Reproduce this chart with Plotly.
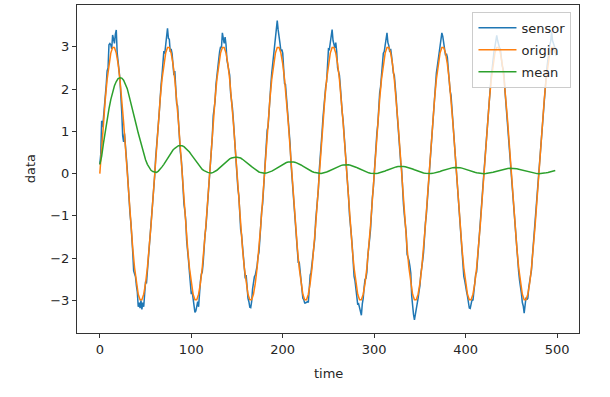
import plotly.graph_objects as go

# sensor sampled every time step, origin / mean every 2nd step
sensor_time = list(range(0, 500))
time = list(range(0, 500, 2))

sensor = [
    # t 0-59
    0.22, 0.45, 1.25, 1.10, 1.32, 1.55, 1.76, 2.10, 2.43, 2.50,
    3.05, 3.08, 3.05, 2.95, 3.28, 3.15, 3.08, 3.30, 3.40, 2.85,
    2.70, 2.45, 2.23, 1.95, 1.45, 0.90, 0.75, 0.95, 0.57, 0.35,
    0.10, -0.25, -0.72, -0.95, -1.17, -1.45, -1.86, -2.30, -2.38, -2.44,
    -2.65, -2.80, -3.15, -3.05, -3.18, -3.00, -3.21, -3.05, -3.15, -2.70,
    -2.55, -2.60, -2.33, -1.95, -1.71, -1.50, -1.32, -0.95, -0.57, -0.30,
    # t 60-119
    -0.05, 0.36, 0.72, 1.03, 1.17, 1.45, 1.88, 2.11, 2.33, 2.63,
    2.90, 2.84, 3.10, 3.23, 3.44, 3.20, 3.18, 2.88, 2.95, 2.84,
    2.50, 2.33, 2.43, 2.06, 1.66, 1.60, 1.32, 0.88, 0.52, 0.36,
    0.05, -0.41, -0.72, -0.88, -1.12, -1.60, -1.96, -2.06, -2.33, -2.58,
    -2.85, -2.79, -2.95, -3.08, -3.28, -3.25, -3.08, -3.03, -3.15, -2.79,
    -2.55, -2.38, -2.33, -2.11, -1.66, -1.45, -1.27, -0.98, -0.52, -0.26,
    # t 120-179
    0.05, 0.41, 0.52, 0.88, 1.37, 1.55, 1.71, 2.11, 2.38, 2.48,
    2.70, 2.89, 3.00, 2.98, 3.33, 3.20, 3.08, 3.23, 3.05, 2.69,
    2.55, 2.48, 2.33, 1.91, 1.61, 1.55, 1.27, 0.88, 0.57, 0.36,
    -0.10, -0.36, -0.52, -0.98, -1.32, -1.45, -1.71, -2.11, -2.38, -2.48,
    -2.40, -2.84, -2.95, -3.03, -3.16, -3.17, -3.03, -2.73, -2.50, -2.44,
    -2.40, -2.28, -2.18, -1.96, -1.86, -1.55, -1.17, -0.88, -0.72, -0.36,
    # t 180-239
    0.08, 0.36, 0.67, 1.03, 1.12, 1.55, 1.96, 2.11, 2.38, 2.58,
    2.70, 3.04, 3.20, 3.38, 3.62, 3.40, 3.28, 3.08, 2.90, 2.94,
    2.85, 2.48, 2.13, 2.11, 1.86, 1.45, 1.17, 1.03, 0.72, 0.26,
    -0.05, -0.36, -0.67, -0.88, -1.12, -1.55, -1.86, -2.11, -2.08, -2.33,
    -2.65, -2.79, -2.95, -2.98, -3.06, -3.06, -3.03, -3.03, -3.05, -2.69,
    -2.40, -2.33, -2.13, -1.96, -1.81, -1.55, -1.12, -0.88, -0.67, -0.36,
    # t 240-299
    0.10, 0.36, 0.57, 0.98, 1.32, 1.60, 1.86, 2.06, 2.18, 2.63,
    2.95, 2.94, 3.15, 3.28, 3.41, 3.15, 3.08, 2.98, 3.10, 2.89,
    2.50, 2.38, 2.33, 2.06, 1.66, 1.45, 1.27, 0.98, 0.72, 0.36,
    -0.05, -0.36, -0.57, -0.98, -1.32, -1.45, -1.71, -2.16, -2.43, -2.53,
    -2.70, -2.94, -3.10, -3.08, -3.18, -3.30, -3.35, -3.08, -2.95, -2.69,
    -2.50, -2.48, -2.33, -1.96, -1.66, -1.55, -1.32, -0.88, -0.57, -0.36,
    # t 300-359
    0.05, 0.36, 0.72, 0.98, 1.17, 1.60, 1.91, 2.06, 2.33, 2.58,
    2.85, 2.89, 3.05, 3.23, 3.33, 3.10, 3.03, 2.88, 2.95, 2.79,
    2.50, 2.38, 2.33, 2.11, 1.81, 1.45, 1.12, 0.98, 0.67, 0.26,
    0.10, -0.41, -0.72, -0.98, -1.17, -1.40, -1.91, -1.96, -2.05, -2.18,
    -2.35, -2.89, -3.20, -3.33, -3.46, -3.35, -3.23, -3.08, -2.95, -2.79,
    -2.65, -2.38, -2.13, -2.06, -1.86, -1.45, -1.17, -0.98, -0.67, -0.26,
    # t 360-419
    -0.05, 0.36, 0.72, 0.98, 1.27, 1.45, 1.71, 2.11, 2.38, 2.53,
    2.70, 2.84, 3.00, 3.13, 3.33, 3.25, 3.08, 2.88, 2.80, 2.84,
    2.75, 2.48, 2.13, 1.96, 1.86, 1.55, 1.17, 0.88, 0.67, 0.36,
    -0.05, -0.36, -0.57, -0.98, -1.32, -1.45, -1.71, -2.11, -2.43, -2.53,
    -2.70, -2.79, -2.90, -3.03, -3.18, -3.19, -3.08, -2.98, -3.00, -2.79,
    -2.55, -2.38, -2.33, -2.06, -1.71, -1.45, -1.32, -0.98, -0.57, -0.26,
    # t 420-479
    0.05, 0.36, 0.57, 0.98, 1.32, 1.55, 1.81, 2.11, 2.33, 2.48,
    2.80, 2.89, 3.00, 3.13, 3.27, 3.15, 3.03, 2.98, 2.95, 2.69,
    2.55, 2.48, 2.33, 1.96, 1.66, 1.55, 1.27, 0.88, 0.57, 0.36,
    0.05, -0.36, -0.67, -0.88, -1.12, -1.55, -1.81, -2.06, -2.33, -2.53,
    -2.65, -2.84, -3.05, -3.13, -3.30, -3.10, -2.93, -2.98, -2.95, -2.69,
    -2.55, -2.48, -2.28, -1.96, -1.66, -1.55, -1.27, -0.88, -0.52, -0.36,
    # t 480-499
    0.05, 0.36, 0.67, 0.88, 1.12, 1.55, 1.86, 2.11, 2.28, 2.53,
    2.75, 2.89, 3.05, 3.13, 3.36, 3.15, 3.08, 2.98, 2.95, 2.79,
]

origin = [
    0, 0.624, 1.22, 1.763, 2.229, 2.598, 2.853, 2.984, 2.984, 2.853, 2.598, 2.229, 1.763, 1.22, 0.624,
    0, -0.624, -1.22, -1.763, -2.229, -2.598, -2.853, -2.984, -2.984, -2.853, -2.598, -2.229, -1.763, -1.22, -0.624,
    0, 0.624, 1.22, 1.763, 2.229, 2.598, 2.853, 2.984, 2.984, 2.853, 2.598, 2.229, 1.763, 1.22, 0.624,
    0, -0.624, -1.22, -1.763, -2.229, -2.598, -2.853, -2.984, -2.984, -2.853, -2.598, -2.229, -1.763, -1.22, -0.624,
    0, 0.624, 1.22, 1.763, 2.229, 2.598, 2.853, 2.984, 2.984, 2.853, 2.598, 2.229, 1.763, 1.22, 0.624,
    0, -0.624, -1.22, -1.763, -2.229, -2.598, -2.853, -2.984, -2.984, -2.853, -2.598, -2.229, -1.763, -1.22, -0.624,
    0, 0.624, 1.22, 1.763, 2.229, 2.598, 2.853, 2.984, 2.984, 2.853, 2.598, 2.229, 1.763, 1.22, 0.624,
    0, -0.624, -1.22, -1.763, -2.229, -2.598, -2.853, -2.984, -2.984, -2.853, -2.598, -2.229, -1.763, -1.22, -0.624,
    0, 0.624, 1.22, 1.763, 2.229, 2.598, 2.853, 2.984, 2.984, 2.853, 2.598, 2.229, 1.763, 1.22, 0.624,
    0, -0.624, -1.22, -1.763, -2.229, -2.598, -2.853, -2.984, -2.984, -2.853, -2.598, -2.229, -1.763, -1.22, -0.624,
    0, 0.624, 1.22, 1.763, 2.229, 2.598, 2.853, 2.984, 2.984, 2.853, 2.598, 2.229, 1.763, 1.22, 0.624,
    0, -0.624, -1.22, -1.763, -2.229, -2.598, -2.853, -2.984, -2.984, -2.853, -2.598, -2.229, -1.763, -1.22, -0.624,
    0, 0.624, 1.22, 1.763, 2.229, 2.598, 2.853, 2.984, 2.984, 2.853, 2.598, 2.229, 1.763, 1.22, 0.624,
    0, -0.624, -1.22, -1.763, -2.229, -2.598, -2.853, -2.984, -2.984, -2.853, -2.598, -2.229, -1.763, -1.22, -0.624,
    0, 0.624, 1.22, 1.763, 2.229, 2.598, 2.853, 2.984, 2.984, 2.853, 2.598, 2.229, 1.763, 1.22, 0.624,
    0, -0.624, -1.22, -1.763, -2.229, -2.598, -2.853, -2.984, -2.984, -2.853, -2.598, -2.229, -1.763, -1.22, -0.624,
    0, 0.624, 1.22, 1.763, 2.229, 2.598, 2.853, 2.984, 2.984, 2.853,
]

mean = [
    0.22, 0.41, 0.72, 1.01, 1.28, 1.53, 1.75, 1.93, 2.08, 2.18,
    2.25, 2.27, 2.26, 2.21, 2.12, 2.01, 1.84, 1.68, 1.51, 1.33,
    1.14, 0.96, 0.79, 0.60, 0.45, 0.33, 0.22, 0.14, 0.08, 0.05,
    0.04, 0.03, 0.06, 0.10, 0.16, 0.22, 0.29, 0.37, 0.44, 0.50,
    0.56, 0.60, 0.64, 0.66, 0.66, 0.66, 0.64, 0.60, 0.56, 0.51,
    0.45, 0.39, 0.32, 0.26, 0.20, 0.15, 0.10, 0.07, 0.04, 0.03,
    0.02, 0.015, 0.03, 0.05, 0.08, 0.12, 0.16, 0.20, 0.24, 0.28,
    0.32, 0.35, 0.37, 0.385, 0.39, 0.39, 0.38, 0.37, 0.34, 0.31,
    0.28, 0.24, 0.20, 0.165, 0.13, 0.095, 0.065, 0.04, 0.025, 0.015,
    0.01, 0.013, 0.023, 0.04, 0.06, 0.085, 0.113, 0.142, 0.171, 0.199,
    0.225, 0.247, 0.264, 0.276, 0.282, 0.283, 0.277, 0.266, 0.25, 0.229,
    0.205, 0.179, 0.151, 0.124, 0.097, 0.072, 0.051, 0.033, 0.02, 0.013,
    0.01, 0.003, 0.010, 0.022, 0.038, 0.057, 0.079, 0.101, 0.124, 0.145,
    0.165, 0.183, 0.196, 0.206, 0.211, 0.212, 0.208, 0.200, 0.188, 0.172,
    0.153, 0.133, 0.111, 0.090, 0.069, 0.049, 0.032, 0.019, 0.008, 0.002,
    0.0, 0.002, 0.008, 0.018, 0.031, 0.046, 0.063, 0.082, 0.100, 0.118,
    0.134, 0.149, 0.160, 0.168, 0.173, 0.174, 0.171, 0.164, 0.154, 0.141,
    0.126, 0.110, 0.092, 0.074, 0.057, 0.041, 0.027, 0.015, 0.007, 0.002,
    0.0, 0.002, 0.007, 0.015, 0.026, 0.039, 0.053, 0.069, 0.084, 0.099,
    0.113, 0.125, 0.135, 0.142, 0.146, 0.147, 0.145, 0.139, 0.131, 0.120,
    0.107, 0.093, 0.078, 0.063, 0.049, 0.035, 0.023, 0.013, 0.006, 0.001,
    0.0, 0.001, 0.006, 0.013, 0.022, 0.033, 0.046, 0.059, 0.073, 0.086,
    0.098, 0.108, 0.117, 0.123, 0.126, 0.127, 0.125, 0.121, 0.114, 0.104,
    0.093, 0.081, 0.068, 0.055, 0.042, 0.030, 0.020, 0.012, 0.005, 0.001,
    0.0, 0.001, 0.005, 0.011, 0.019, 0.029, 0.040, 0.052, 0.064, 0.075,
]

x_ticks = [0, 100, 200, 300, 400, 500]
y_ticks = [-3, -2, -1, 0, 1, 2, 3]

FONT = "DejaVu Sans"
TXT = "#262626"

fig = go.Figure()
fig.add_trace(go.Scatter(x=sensor_time, y=sensor, mode="lines", name="sensor",
                         legendgroup="a", line=dict(color="#1f77b4", width=1.5)))
fig.add_trace(go.Scatter(x=time, y=origin, mode="lines", name="origin",
                         legendgroup="b", line=dict(color="#ff7f0e", width=1.5)))
fig.add_trace(go.Scatter(x=time, y=mean, mode="lines", name="mean",
                         legendgroup="c", line=dict(color="#2ca02c", width=1.5)))

axis_common = dict(
    showgrid=False, zeroline=False, showline=True, mirror=True,
    linecolor="#333333", linewidth=1, ticks="outside", ticklen=4,
    tickwidth=1, tickcolor="#333333",
    tickfont=dict(family=FONT, size=13, color=TXT),
)

fig.update_layout(
    width=610, height=397,
    margin=dict(l=77, r=31, t=5, b=64),
    paper_bgcolor="white", plot_bgcolor="white",
    font=dict(family=FONT, size=13, color=TXT),
    xaxis=dict(range=[-24.95, 523.95], tickvals=x_ticks, **axis_common),
    yaxis=dict(range=[-3.77, 3.99], tickvals=y_ticks, **axis_common),
    showlegend=True,
    legend=dict(x=0.985, y=0.979, xanchor="right", yanchor="top",
                bgcolor="rgba(255,255,255,0.8)", bordercolor="#cccccc",
                borderwidth=1, font=dict(family=FONT, size=13, color=TXT),
                tracegroupgap=2, itemwidth=38),
    annotations=[
        dict(text="time", xref="paper", yref="paper", x=0.5, y=-0.122,
             xanchor="center", yanchor="middle", showarrow=False,
             font=dict(family=FONT, size=13, color=TXT)),
        dict(text="data", xref="paper", yref="paper", x=-0.093, y=0.5,
             xanchor="center", yanchor="middle", showarrow=False, textangle=-90,
             font=dict(family=FONT, size=13, color=TXT)),
    ],
)

fig.write_html("out.html", config={"displayModeBar": False},
               post_script="document.body.style.margin='0';")
